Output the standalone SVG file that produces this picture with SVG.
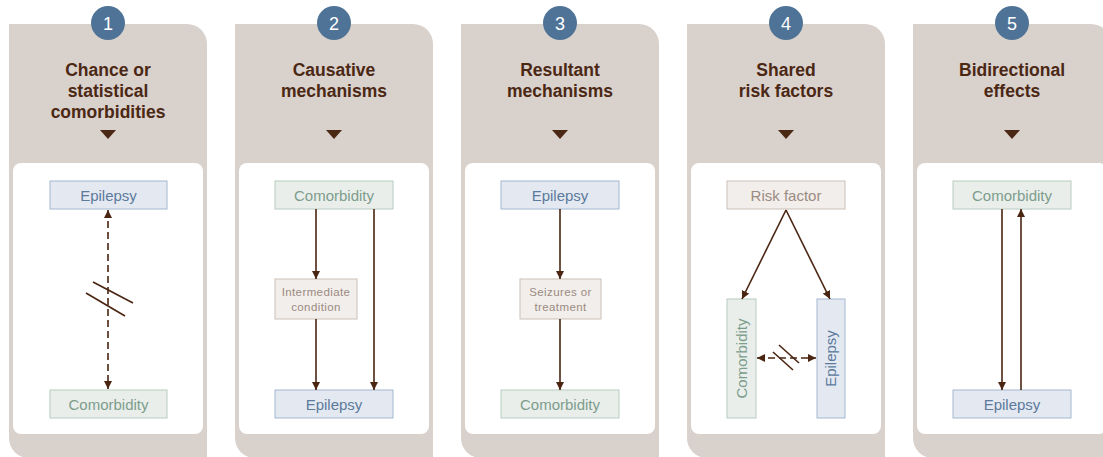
<svg xmlns="http://www.w3.org/2000/svg" width="1103" height="457" viewBox="0 0 1103 457">
<style>
.panel{fill:#d9d1cc}
.inner{fill:#ffffff}
.num{fill:#4f7397}
.numt{fill:#ffffff;font-family:"Liberation Sans",Arial,sans-serif;font-size:18px;text-anchor:middle}
.title{fill:#4b2814;font-family:"Liberation Sans",Arial,sans-serif;font-size:17.5px;font-weight:bold;text-anchor:middle}
.tri{fill:#4b2814}
.ep{fill:#e4e9f1;stroke:#a3b8cf;stroke-width:1}
.ept{fill:#5b7a9c;font-family:"Liberation Sans",Arial,sans-serif;font-size:15px;text-anchor:middle}
.co{fill:#e9eeeb;stroke:#b8ccc0;stroke-width:1}
.cot{fill:#7d9d8b;font-family:"Liberation Sans",Arial,sans-serif;font-size:15px;text-anchor:middle}
.rf{fill:#f2eeeb;stroke:#cbbfb7;stroke-width:1}
.rft{fill:#9a8b81;font-family:"Liberation Sans",Arial,sans-serif;font-size:15px;text-anchor:middle}
.rfs{fill:#9a8b81;font-family:"Liberation Sans",Arial,sans-serif;font-size:11.5px;text-anchor:middle;letter-spacing:0.4px}
.ln{stroke:#4a2511;stroke-width:1.6;fill:none}
.dash{stroke:#4a2511;stroke-width:1.6;fill:none;stroke-dasharray:7 4}
.slash{stroke:#4a2511;stroke-width:1.6;fill:none}
</style>
<defs>
<marker id="ah" viewBox="0 0 10 10" refX="10" refY="5" markerWidth="8" markerHeight="8" markerUnits="userSpaceOnUse" orient="auto-start-reverse">
<path d="M0,0 L10,5 L0,10 Z" fill="#4a2511"/>
</marker>
</defs>

<g id="panel1">
<path class="panel" d="M9,24 H187 A20,20 0 0 1 207,44 V458 H29 A20,20 0 0 1 9,438 Z"/>
<rect class="inner" x="13" y="163" width="190" height="271" rx="8"/>
<circle class="num" cx="108" cy="23" r="17"/>
<text class="numt" x="108" y="29.5">1</text>
<text class="title" x="108" y="76">Chance or</text>
<text class="title" x="108" y="97">statistical</text>
<text class="title" x="108" y="118">comorbidities</text>
<path class="tri" d="M100,130 H116 L108,139 Z"/>
</g>
<g id="panel2">
<path class="panel" d="M235,24 H413 A20,20 0 0 1 433,44 V458 H255 A20,20 0 0 1 235,438 Z"/>
<rect class="inner" x="239" y="163" width="190" height="271" rx="8"/>
<circle class="num" cx="334" cy="23" r="17"/>
<text class="numt" x="334" y="29.5">2</text>
<text class="title" x="334" y="76">Causative</text>
<text class="title" x="334" y="97">mechanisms</text>
<path class="tri" d="M326,130 H342 L334,139 Z"/>
</g>
<g id="panel3">
<path class="panel" d="M461,24 H639 A20,20 0 0 1 659,44 V458 H481 A20,20 0 0 1 461,438 Z"/>
<rect class="inner" x="465" y="163" width="190" height="271" rx="8"/>
<circle class="num" cx="560" cy="23" r="17"/>
<text class="numt" x="560" y="29.5">3</text>
<text class="title" x="560" y="76">Resultant</text>
<text class="title" x="560" y="97">mechanisms</text>
<path class="tri" d="M552,130 H568 L560,139 Z"/>
</g>
<g id="panel4">
<path class="panel" d="M687,24 H865 A20,20 0 0 1 885,44 V458 H707 A20,20 0 0 1 687,438 Z"/>
<rect class="inner" x="691" y="163" width="190" height="271" rx="8"/>
<circle class="num" cx="786" cy="23" r="17"/>
<text class="numt" x="786" y="29.5">4</text>
<text class="title" x="786" y="76">Shared</text>
<text class="title" x="786" y="97">risk factors</text>
<path class="tri" d="M778,130 H794 L786,139 Z"/>
</g>
<g id="panel5">
<path class="panel" d="M913,24 H1091 A20,20 0 0 1 1111,44 V458 H933 A20,20 0 0 1 913,438 Z"/>
<rect class="inner" x="917" y="163" width="190" height="271" rx="8"/>
<circle class="num" cx="1012" cy="23" r="17"/>
<text class="numt" x="1012" y="29.5">5</text>
<text class="title" x="1012" y="76">Bidirectional</text>
<text class="title" x="1012" y="97">effects</text>
<path class="tri" d="M1004,130 H1020 L1012,139 Z"/>
</g>

<g id="p1-epilepsy"><rect class="ep" x="50" y="181" width="117" height="28"/><text class="ept" x="108.5" y="200.5">Epilepsy</text></g>
<g id="p1-comorbidity"><rect class="co" x="50" y="390" width="117" height="28"/><text class="cot" x="108.5" y="409.5">Comorbidity</text></g>

<g id="p2-comorbidity"><rect class="co" x="275" y="181" width="118" height="28"/><text class="cot" x="334" y="200.5">Comorbidity</text></g>
<g id="p2-intermediate"><rect class="rf" x="275" y="279" width="82" height="40"/><text class="rfs" x="316" y="296">Intermediate</text><text class="rfs" x="316" y="311">condition</text></g>
<g id="p2-epilepsy"><rect class="ep" x="275" y="390" width="118" height="28"/><text class="ept" x="334" y="409.5">Epilepsy</text></g>

<g id="p3-epilepsy"><rect class="ep" x="501" y="181" width="118" height="28"/><text class="ept" x="560" y="200.5">Epilepsy</text></g>
<g id="p3-seizures"><rect class="rf" x="520" y="279" width="81" height="40"/><text class="rfs" x="560.5" y="296">Seizures or</text><text class="rfs" x="560.5" y="311">treatment</text></g>
<g id="p3-comorbidity"><rect class="co" x="501" y="390" width="118" height="28"/><text class="cot" x="560" y="409.5">Comorbidity</text></g>

<g id="p4-risk"><rect class="rf" x="727" y="181" width="118" height="28"/><text class="rft" x="786" y="200.5">Risk factor</text></g>
<g id="p4-comorbidity"><rect class="co" x="727" y="299" width="29" height="119"/><text class="cot" transform="translate(746.5,358.5) rotate(-90)" x="0" y="0">Comorbidity</text></g>
<g id="p4-epilepsy"><rect class="ep" x="817" y="299" width="28" height="119"/><text class="ept" transform="translate(836,358.5) rotate(-90)" x="0" y="0">Epilepsy</text></g>

<g id="p5-comorbidity"><rect class="co" x="953" y="181" width="118" height="28"/><text class="cot" x="1012" y="200.5">Comorbidity</text></g>
<g id="p5-epilepsy"><rect class="ep" x="953" y="390" width="118" height="28"/><text class="ept" x="1012" y="409.5">Epilepsy</text></g>

<g id="connectors">
<path class="dash" d="M108,210 V389" marker-start="url(#ah)" marker-end="url(#ah)"/>
<path class="slash" d="M93,282 L133,303"/>
<path class="slash" d="M86,293 L125,316"/>

<path class="ln" d="M316,209 V279" marker-end="url(#ah)"/>
<path class="ln" d="M316,319 V390" marker-end="url(#ah)"/>
<path class="ln" d="M374,209 V390" marker-end="url(#ah)"/>

<path class="ln" d="M560,209 V279" marker-end="url(#ah)"/>
<path class="ln" d="M560,319 V390" marker-end="url(#ah)"/>

<path class="ln" d="M786,210 L742,299" marker-end="url(#ah)"/>
<path class="ln" d="M786,210 L830,299" marker-end="url(#ah)"/>
<path class="dash" d="M757,358 H816" marker-start="url(#ah)" marker-end="url(#ah)"/>
<path class="slash" d="M779,345 L799,363"/>
<path class="slash" d="M773,352 L793,370"/>

<path class="ln" d="M1002,209 V390" marker-end="url(#ah)"/>
<path class="ln" d="M1021,390 V209" marker-end="url(#ah)"/>
</g>
</svg>
